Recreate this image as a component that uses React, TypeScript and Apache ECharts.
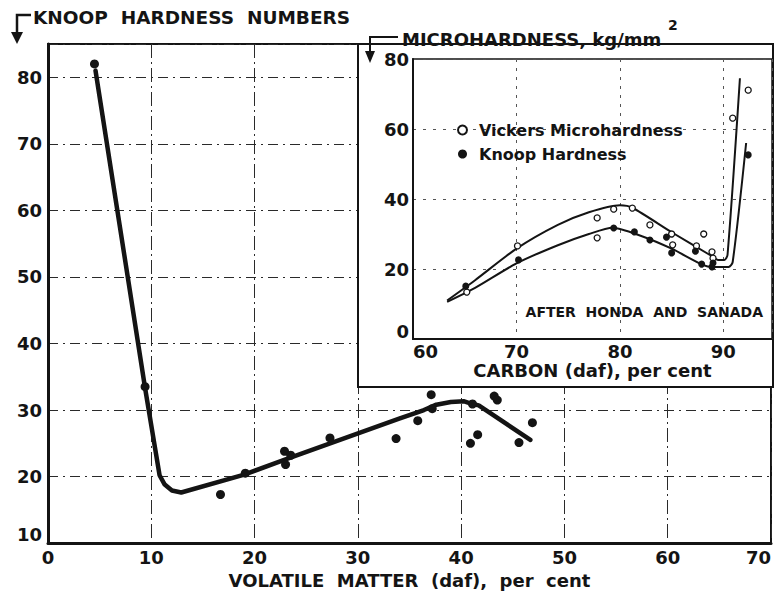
import React, { useEffect, useRef } from "react";
import * as echarts from "echarts";

const FONT = "DejaVu Sans";
const INK = "#141414";

// Main chart: Knoop hardness vs volatile matter
const mainPoints: [number, number][] = [
  [4.5, 82], [9.4, 33.5], [16.7, 17.3], [19.1, 20.5], [22.9, 23.8], [23.5, 23.2],
  [23.0, 21.8], [27.3, 25.8], [33.7, 25.7], [35.8, 28.4], [37.1, 32.3], [37.2, 30.2],
  [41.1, 30.9], [40.9, 25.0], [41.6, 26.3], [43.2, 32.1], [43.5, 31.5], [45.6, 25.1],
  [46.9, 28.1],
];
const mainCurve: [number, number][] = [
  [4.6, 81], [9.4, 33.3], [10.8, 20.2], [11.3, 18.8], [12.0, 17.9], [12.9, 17.6],
  [19.0, 20.3], [23.4, 22.8], [34.0, 28.7], [36.4, 30.0], [37.6, 30.8], [39.0, 31.2],
  [40.3, 31.3], [41.1, 30.9], [41.7, 30.7], [46.7, 25.5],
];

// Inset: microhardness vs carbon (after Honda and Sanada)
const vickersPoints: [number, number][] = [
  [65.2, 13.4], [70.1, 26.6], [77.8, 34.6], [77.8, 28.9], [79.4, 37.1], [81.2, 37.4],
  [82.9, 32.6], [85.0, 30.0], [85.1, 26.9], [87.4, 26.6], [88.1, 30.0], [88.9, 24.9],
  [89.0, 23.1], [90.9, 63.1], [92.4, 71.1],
];
const knoopPoints: [number, number][] = [
  [65.1, 15.1], [70.2, 22.6], [79.4, 31.7], [81.4, 30.6], [82.9, 28.3], [84.5, 29.1],
  [85.0, 24.6], [87.3, 25.1], [87.9, 21.4], [88.9, 20.6], [89.0, 21.7], [92.4, 52.6],
];
const vickersCurve: [number, number][] = [
  [63.3, 11], [66, 16.8], [70, 25.8], [74, 32.6], [77, 36.2], [80, 38.2], [81.2, 37.5],
  [85, 30.5], [88.7, 24], [89.5, 22.6], [90.1, 22.6], [90.4, 24], [91.6, 74.5],
];
const knoopCurve: [number, number][] = [
  [63.3, 10.6], [66, 14.6], [70, 21.6], [74, 26.8], [77, 30], [79.3, 31.8], [82, 29.5],
  [85, 25.8], [88, 21.2], [89, 20.6], [90.5, 20.6], [90.9, 22], [92.2, 56],
];

const mainXRange = [0, 70];
const mainYRange = [10, 85];
const insetXRange = [60, 94.7];
const insetYRange = [0, 80];

export default function App() {
  const ref = useRef<HTMLDivElement>(null);
  useEffect(() => {
    if (!ref.current) return;
    const chart = echarts.init(ref.current, undefined, { renderer: "svg" });
    const labelStyle = { fontFamily: FONT, fontSize: 18, fontWeight: "bold" as const, color: INK };
    chart.setOption({
      animation: false,
      backgroundColor: "#fff",
      textStyle: { fontFamily: FONT },
      grid: [
        { left: 48, top: 44, width: 725, height: 503, show: true, borderColor: INK, borderWidth: 2, z: 0 },
        { left: 413, top: 59, width: 359, height: 280, show: true, borderColor: INK, borderWidth: 1.5, z: 3 },
      ],
      xAxis: [
        {
          gridIndex: 0, type: "value", min: mainXRange[0], max: mainXRange[1], interval: 10,
          axisLine: { show: true, lineStyle: { color: INK, width: 3 } },
          axisTick: { show: false },
          axisLabel: { ...labelStyle, margin: 5, lineHeight: 18, alignMaxLabel: "right" },
          splitLine: { show: true, lineStyle: { color: "#2a2a2a", width: 1, type: [14, 4, 2, 4] } },
          name: "VOLATILE  MATTER  (daf),  per  cent",
          nameLocation: "middle", nameGap: 25,
          nameTextStyle: { ...labelStyle, fontSize: 18, lineHeight: 18 },
        },
        {
          gridIndex: 1, type: "value", min: insetXRange[0], max: insetXRange[1], interval: 10, z: 3,
          axisLine: { show: true, lineStyle: { color: INK, width: 2 } },
          axisTick: { show: false },
          axisLabel: { ...labelStyle, fontSize: 18, margin: 4, lineHeight: 16, showMaxLabel: false, alignMinLabel: "left" },
          splitLine: { show: true, lineStyle: { color: "#555", width: 1, type: [3, 6] } },
          name: "CARBON (daf), per cent",
          nameLocation: "middle", nameGap: 23,
          nameTextStyle: { fontFamily: FONT, fontSize: 18, fontWeight: 600, color: INK, lineHeight: 17 },
        },
      ],
      yAxis: [
        {
          gridIndex: 0, type: "value", min: mainYRange[0], max: mainYRange[1], interval: 10,
          axisLine: { show: true, lineStyle: { color: INK, width: 3 } },
          axisTick: { show: false },
          axisLabel: { ...labelStyle, margin: 6, showMaxLabel: false, verticalAlignMinLabel: "bottom" },
          splitLine: { show: true, lineStyle: { color: "#2a2a2a", width: 1, type: [10, 5, 2, 5] } },
        },
        {
          gridIndex: 1, type: "value", min: insetYRange[0], max: insetYRange[1], interval: 20, z: 3,
          axisLine: { show: true, lineStyle: { color: INK, width: 2 } },
          axisTick: { show: false },
          axisLabel: { ...labelStyle, margin: 4, lineHeight: 16, verticalAlignMinLabel: "bottom" },
          splitLine: { show: true, lineStyle: { color: "#555", width: 1, type: [3, 7] } },
        },
      ],
      legend: {
        data: ["Vickers Microhardness", "Knoop Hardness"],
        orient: "vertical", left: 452, top: 117, itemWidth: 9, itemHeight: 9, itemGap: 8, z: 8,
        textStyle: { fontFamily: FONT, fontSize: 16, fontWeight: 600, color: INK, padding: [0, 0, 0, 7] },
      },
      graphic: [
        { type: "rect", z: 1, shape: { x: 358, y: 44, width: 415, height: 343 }, style: { fill: "#fff", stroke: INK, lineWidth: 2 } },
        { type: "polyline", z: 10, shape: { points: [[31, 15], [17, 15], [17, 34]] }, style: { stroke: INK, lineWidth: 2.5, fill: "none" } },
        { type: "polygon", z: 10, shape: { points: [[11, 32], [23, 32], [17, 44]] }, style: { fill: INK } },
        { type: "text", z: 10, x: 33, y: 17, style: { text: "KNOOP  HARDNESS  NUMBERS", fontFamily: FONT, fontSize: 18.5, fontWeight: "bold", fill: INK, verticalAlign: "middle" } },
        { type: "polyline", z: 10, shape: { points: [[398, 37], [370, 37], [370, 52]] }, style: { stroke: INK, lineWidth: 2, fill: "none" } },
        { type: "polygon", z: 10, shape: { points: [[365, 51], [375, 51], [370, 63]] }, style: { fill: INK } },
        { type: "text", z: 10, x: 402, y: 39, style: { text: "MICROHARDNESS, kg/mm", fontFamily: FONT, fontSize: 18, fontWeight: "bold", fill: INK, verticalAlign: "middle" } },
        { type: "text", z: 10, x: 668, y: 25, style: { text: "2", fontFamily: FONT, fontSize: 14, fontWeight: "bold", fill: INK, verticalAlign: "middle" } },
        { type: "text", z: 10, x: 763, y: 312, style: { text: "AFTER  HONDA  AND  SANADA", fontFamily: FONT, fontSize: 14, fontWeight: "bold", fill: INK, align: "right", verticalAlign: "middle" } },
      ],
      series: [
        {
          type: "line", xAxisIndex: 0, yAxisIndex: 0, data: mainCurve, symbol: "none", z: 2,
          lineStyle: { color: INK, width: 4.5, cap: "round", join: "round" }, silent: true,
        },
        {
          type: "scatter", xAxisIndex: 0, yAxisIndex: 0, data: mainPoints, symbol: "circle", symbolSize: 9, z: 3,
          itemStyle: { color: INK, opacity: 1 },
        },
        {
          type: "line", xAxisIndex: 1, yAxisIndex: 1, data: vickersCurve, symbol: "none", smooth: 0.25, z: 5,
          lineStyle: { color: INK, width: 2 }, silent: true,
        },
        {
          type: "line", xAxisIndex: 1, yAxisIndex: 1, data: knoopCurve, symbol: "none", smooth: 0.25, z: 5,
          lineStyle: { color: INK, width: 2 }, silent: true,
        },
        {
          name: "Vickers Microhardness", type: "scatter", xAxisIndex: 1, yAxisIndex: 1, data: vickersPoints,
          symbol: "circle", symbolSize: 6, z: 6,
          itemStyle: { color: "#fff", borderColor: INK, borderWidth: 1.3, opacity: 1 },
        },
        {
          name: "Knoop Hardness", type: "scatter", xAxisIndex: 1, yAxisIndex: 1, data: knoopPoints,
          symbol: "circle", symbolSize: 7, z: 6,
          itemStyle: { color: INK, opacity: 1 },
        },
      ],
    });
    return () => chart.dispose();
  }, []);
  return <div ref={ref} style={{ position: "fixed", left: 0, top: 0, width: 774, height: 594 }} />;
}
